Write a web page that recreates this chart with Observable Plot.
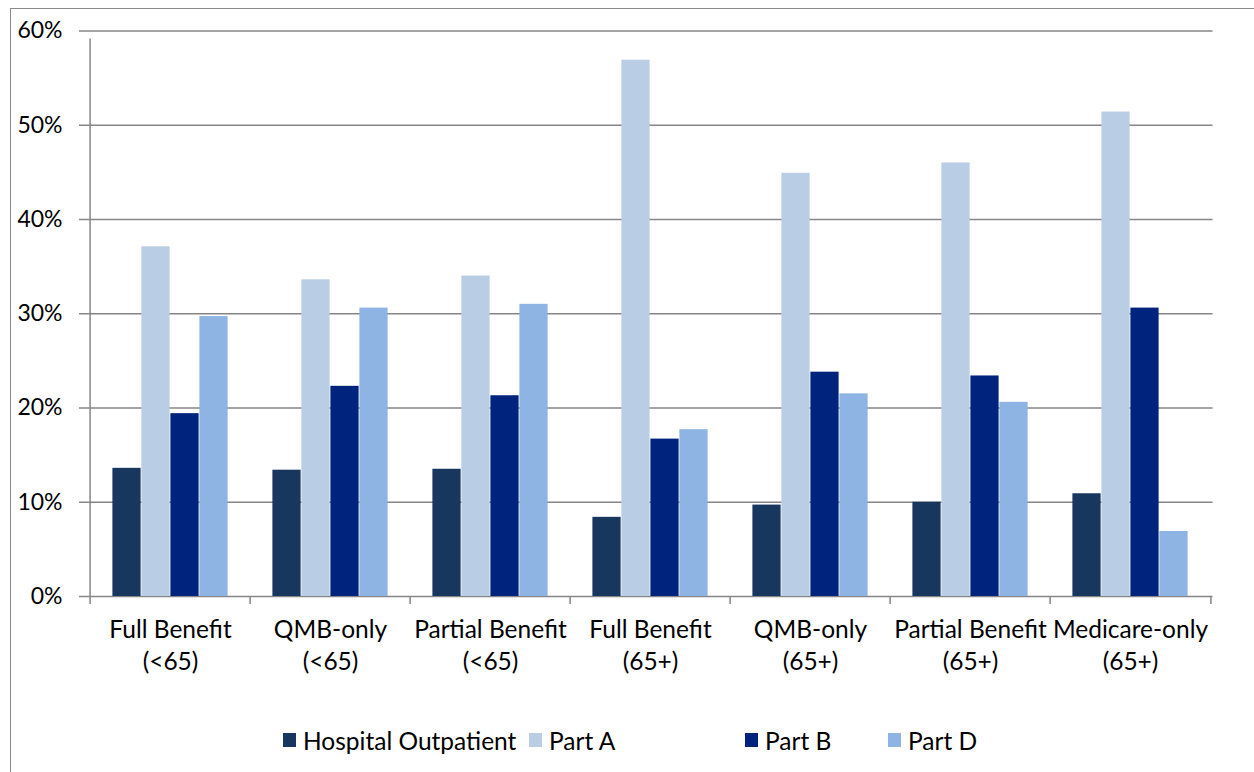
<!DOCTYPE html>
<html><head><meta charset="utf-8">
<script src="https://cdn.jsdelivr.net/npm/d3@7"></script>
<script src="https://cdn.jsdelivr.net/npm/@observablehq/plot@0.6"></script>
<style>
body{margin:0;background:#fff;font-family:Lato,sans-serif;}
#frame{position:absolute;left:10px;top:8px;width:1400px;height:900px;border:1.3px solid #8a8a8a;box-sizing:border-box;}
#chart{position:absolute;left:0;top:0;}
#legend{position:absolute;top:725px;left:0;width:1254px;height:30px;font-size:24.5px;color:#000;}
.item{position:absolute;top:0;height:30px;display:flex;align-items:center;white-space:nowrap;}
.sw{width:13px;height:14px;margin-right:7px;}
</style></head><body>
<div id="frame"></div>
<div id="chart"></div>
<div id="legend"></div>
<script>
const categories = ["Full Benefit\n(<65)", "QMB-only\n(<65)", "Partial Benefit\n(<65)", "Full Benefit\n(65+)", "QMB-only\n(65+)", "Partial Benefit\n(65+)", "Medicare-only\n(65+)"];
const seriesNames = ["Hospital Outpatient", "Part A", "Part B", "Part D"];
const hospitalOutpatient = [13.6, 13.4, 13.5, 8.4, 9.7, 10.0, 10.9];
const partA = [37.1, 33.6, 34.0, 56.9, 44.9, 46.0, 51.4];
const partB = [19.4, 22.3, 21.3, 16.7, 23.8, 23.4, 30.6];
const partD = [29.7, 30.6, 31.0, 17.7, 21.5, 20.6, 6.9];
const seriesColors = ["#17375E", "#B9CDE5", "#00247D", "#8EB4E3"];
const yTicks = [0, 10, 20, 30, 40, 50, 60];

const seriesValues = [hospitalOutpatient, partA, partB, partD];
const rows = [];
seriesNames.forEach((s, k) => categories.forEach((c, i) => rows.push({category: c, series: s, value: seriesValues[k][i]})));

const W = 1254, H = 700, mL = 87, mR = 41.5, mT = 30.5, mB = 104;
const step = (W - mL - mR) / categories.length;
const groupPad = 22.4;
const barW = (step - 2 * groupPad) / seriesNames.length;
const grid = "#868686";

const chart = Plot.plot({
  width: W, height: H,
  marginLeft: mL, marginRight: mR, marginTop: mT, marginBottom: mB,
  style: {fontFamily: "Lato, sans-serif", fontSize: "23px", color: "#000", background: "transparent"},
  x: {domain: categories, padding: 0, label: null},
  y: {domain: [0, 60], label: null},
  marks: [
    Plot.ruleY(yTicks, {stroke: grid, strokeWidth: 1.5}),
    ...seriesNames.map((s, k) => Plot.barY(rows.filter(r => r.series === s), {
      x: "category", y: "value", fill: seriesColors[k],
      insetLeft: groupPad + k * barW,
      insetRight: step - groupPad - (k + 1) * barW
    })),
    Plot.ruleX(categories, {x: d => d, dx: -step / 2, y1: 0, y2: 0, insetBottom: -8, stroke: grid, strokeWidth: 1.5}),
    Plot.ruleX([categories[categories.length - 1]], {x: d => d, dx: step / 2, y1: 0, y2: 0, insetBottom: -8, stroke: grid, strokeWidth: 1.5}),
    Plot.ruleX([categories[0]], {x: d => d, dx: -step / 2, y1: 0, y2: 60, insetBottom: -8, stroke: grid, strokeWidth: 1.5}),
    Plot.axisY({ticks: yTicks, tickFormat: d => d + "%", tickSize: 8, tickPadding: 17, stroke: grid, strokeWidth: 1.5, fill: "#000", fontSize: 23}),
    Plot.axisX({tickSize: 0, tickPadding: 19, lineHeight: 1.3, fill: "#000", fontSize: 24.5})
  ]
});
document.getElementById("chart").appendChild(chart);

const legendLeft = [283, 529, 745, 888];
const legend = document.getElementById("legend");
seriesNames.forEach((s, k) => {
  const it = document.createElement("div");
  it.className = "item";
  it.style.left = legendLeft[k] + "px";
  it.innerHTML = `<span class="sw" style="background:${seriesColors[k]}"></span><span>${s}</span>`;
  legend.appendChild(it);
});
</script>
</body></html>
